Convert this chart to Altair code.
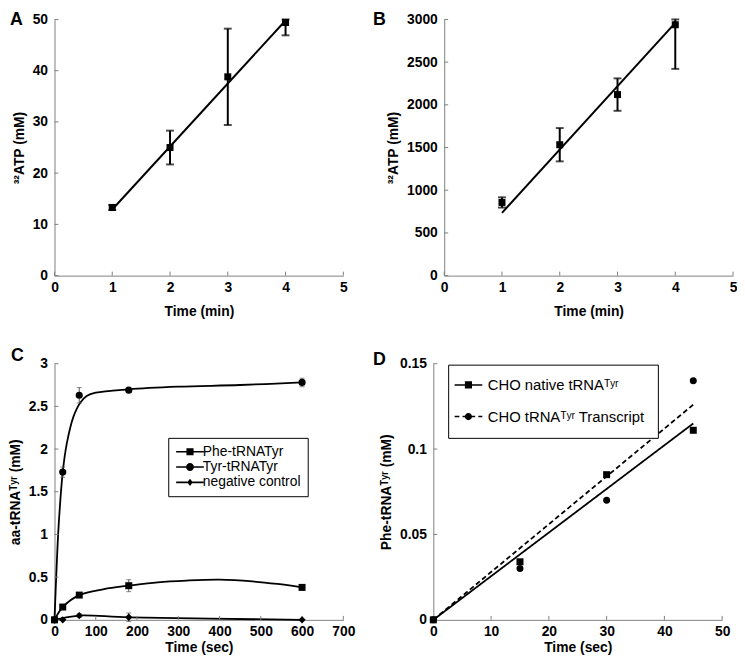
import altair as alt
import pandas as pd

# ---------------- data ----------------
# Panel A
a_time = [1, 2, 3, 4]
a_atp = [13.3, 25.0, 38.8, 49.4]
a_err = [0.5, 3.3, 9.4, 2.5]
a_fit_time = [1, 4]
a_fit_atp = [12.9, 49.8]
a_xticks = [0, 1, 2, 3, 4, 5]
a_yticks = [0, 10, 20, 30, 40, 50]

# Panel B
b_time = [1, 2, 3, 4]
b_atp = [857, 1533, 2120, 2938]
b_err = [60, 195, 190, 517]
b_fit_time = [1, 4]
b_fit_atp = [735, 2960]
b_xticks = [0, 1, 2, 3, 4, 5]
b_yticks = [0, 500, 1000, 1500, 2000, 2500, 3000]

# Panel C (measured points)
c_series = ["Phe-tRNATyr", "Tyr-tRNATyr", "negative control"]
c_time = [0, 20, 60, 180, 600]
c_phe = [0.0, 0.15, 0.29, 0.40, 0.38]
c_phe_err = [0.0, 0.02, 0.02, 0.07, 0.02]
c_tyr = [0.0, 1.73, 2.63, 2.69, 2.78]
c_tyr_err = [0.0, 0.06, 0.09, 0.02, 0.05]
c_neg = [0.0, 0.0, 0.05, 0.03, 0.0]
c_neg_err = [0.0, 0.0, 0.02, 0.05, 0.0]
# Panel C (fitted curves)
c_phe_fit_time = [0, 20, 60, 120, 180, 250, 320, 400, 480, 540, 600]
c_phe_fit = [0.0, 0.15, 0.29, 0.36, 0.40, 0.44, 0.46, 0.47, 0.45, 0.42, 0.38]
c_tyr_fit_time = [0, 5, 10, 20, 30, 46, 62, 78, 100, 180, 300, 450, 600]
c_tyr_fit = [0.0, 0.60, 1.10, 1.73, 2.07, 2.38, 2.54, 2.62, 2.66, 2.70, 2.73, 2.75, 2.78]
c_neg_fit_time = [0, 20, 60, 180, 600]
c_neg_fit = [0.0, 0.02, 0.05, 0.03, 0.0]
c_xticks = [0, 100, 200, 300, 400, 500, 600, 700]
c_yticks = [0, 0.5, 1, 1.5, 2, 2.5, 3]

# Panel D
d_series = ["CHO native tRNAᵀʸʳ", "CHO tRNAᵀʸʳ Transcript"]
d_time = [0, 15, 30, 45]
d_native = [0.0, 0.034, 0.085, 0.111]
d_transcript = [0.0, 0.030, 0.070, 0.140]
d_fit_time = [0, 45]
d_fit_native = [0.0, 0.115]
d_fit_transcript = [0.0, 0.126]
d_xticks = [0, 10, 20, 30, 40, 50]
d_yticks = [0, 0.05, 0.1, 0.15]

# ---------------- style ----------------
W, H = 292, 259
FONT = "Liberation Sans"
AX = "#808080"
TICK = 4


def axis(title, values, lpad, tpad):
    return alt.Axis(
        title=title, values=values, format=".10~g", ticks=False, grid=False,
        domainColor=AX, domainWidth=1, labelFont=FONT, labelFontSize=14,
        labelFontWeight="bold", labelColor="black", labelPadding=lpad,
        labelFlush=False, labelOverlap=False, titleFont=FONT, titleFontSize=14,
        titleFontWeight="bold", titleColor="black", titlePadding=tpad,
    )


def qscale(dom):
    return alt.Scale(domain=dom, nice=False, zero=False)


def inner_ticks(xticks, yticks):
    xt = alt.Chart(pd.DataFrame({"t": xticks})).mark_rule(color=AX, strokeWidth=1).encode(
        x="t:Q", y=alt.value(H), y2=alt.value(H - TICK))
    yt = alt.Chart(pd.DataFrame({"v": yticks})).mark_rule(color=AX, strokeWidth=1).encode(
        y="v:Q", x=alt.value(0), x2=alt.value(TICK))
    return [xt, yt]


def letter(ch, dx, dy):
    return alt.Chart(pd.DataFrame({"l": [ch]})).mark_text(
        font=FONT, fontSize=18, fontWeight="bold", align="left",
        baseline="top", color="black").encode(
        text="l:N", x=alt.value(dx), y=alt.value(dy))


def errbars(df, width, color, cap, clip_top):
    base = alt.Chart(df).transform_calculate(
        lo="datum.v - datum.e", hi=f"min(datum.v + datum.e, {clip_top})")
    rule = base.mark_rule(color=color, strokeWidth=width).encode(
        x="t:Q", y="lo:Q", y2="hi:Q")
    lo = base.mark_tick(color=color, thickness=width, size=cap, orient="horizontal").encode(
        x="t:Q", y="lo:Q")
    hi = base.mark_tick(color=color, thickness=width, size=cap, orient="horizontal").encode(
        x="t:Q", y="hi:Q")
    return [rule, lo, hi]


def linear_panel(times, vals, errs, fit_t, fit_v, xticks, yticks, ydom, ytitle, ch, chx):
    df = pd.DataFrame({"t": times, "v": vals, "e": errs})
    fit = pd.DataFrame({"t": fit_t, "v": fit_v})
    x = alt.X("t:Q", scale=qscale([xticks[0], xticks[-1]]),
              axis=axis("Time (min)", xticks, 5, 10))
    y = alt.Y("v:Q", scale=qscale(ydom), axis=axis(ytitle, yticks, 7, 6))
    line = alt.Chart(fit).mark_line(color="black", strokeWidth=2).encode(x=x, y=y)
    pts = alt.Chart(df).mark_point(shape="square", filled=True, size=50, color="black",
                                   opacity=1).encode(x="t:Q", y="v:Q")
    layers = [line] + inner_ticks(xticks, yticks) + errbars(df, 2, "black", 8, ydom[1]) + [pts, letter(ch, chx, -8)]
    return alt.layer(*layers).properties(width=W, height=H)


panel_a = linear_panel(a_time, a_atp, a_err, a_fit_time, a_fit_atp, a_xticks, a_yticks,
                       [0, 50], "³²ATP (mM)", "A", -45)
panel_b = linear_panel(b_time, b_atp, b_err, b_fit_time, b_fit_atp, b_xticks, b_yticks,
                       [0, 3000], "³²ATP (mM)", "B", -72)

# legend symbol paths: a thin filled bar (the line) plus the marker
BAR = "M-3.5,-0.2H3.5V0.2H-3.5Z"
DASHES = ("M-3.5,-0.2H-2.3V0.2H-3.5Z M-1.5,-0.2H-0.3V0.2H-1.5Z "
          "M0.5,-0.2H1.7V0.2H0.5Z M2.5,-0.2H3.5V0.2H2.5Z")
SQ = "M-0.9,-0.9H0.9V0.9H-0.9Z"
CI = "M-1,0A1,1,0,1,1,1,0A1,1,0,1,1,-1,0Z"
CI_S = "M-0.9,0A0.9,0.9,0,1,1,0.9,0A0.9,0.9,0,1,1,-0.9,0Z"
DI = "M0,-0.9L0.7,0L0,0.9L-0.7,0Z"

# ---------------- Panel C ----------------
rows = []
for s, vals, errs in zip(c_series, [c_phe, c_tyr, c_neg], [c_phe_err, c_tyr_err, c_neg_err]):
    for t, v, e in zip(c_time, vals, errs):
        rows.append({"s": s, "t": t, "v": v, "e": e})
c_df = pd.DataFrame(rows)
crow = []
for s, ts, vs in zip(c_series, [c_phe_fit_time, c_tyr_fit_time, c_neg_fit_time],
                     [c_phe_fit, c_tyr_fit, c_neg_fit]):
    for t, v in zip(ts, vs):
        crow.append({"s": s, "t": t, "v": v})
c_curves = pd.DataFrame(crow)

xC = alt.X("t:Q", scale=qscale([0, 700]), axis=axis("Time (sec)", c_xticks, 5, 2))
yC = alt.Y("v:Q", scale=qscale([0, 3]), axis=axis("aa-tRNAᵀʸʳ (mM)", c_yticks, 7, 6))
c_lines = alt.Chart(c_curves).mark_line(interpolate="catmull-rom", color="black",
                                        strokeWidth=1.8).encode(x=xC, y=yC, detail="s:N")
c_pts = alt.Chart(c_df).mark_point(filled=True, color="black", opacity=1).encode(
    x="t:Q", y="v:Q",
    shape=alt.Shape("s:N", scale=alt.Scale(domain=c_series, range=["square", "circle", "diamond"]),
                    legend=None),
    size=alt.Size("s:N", scale=alt.Scale(domain=c_series, range=[50, 55, 30]), legend=None),
)
c_leg_paths = [BAR + " " + SQ, BAR + " " + CI, BAR + " " + DI]
c_leg = alt.Chart(pd.DataFrame({"sl": c_series})).transform_filter("false").mark_point(
    filled=True, color="black", opacity=1).encode(
    shape=alt.Shape("sl:N", scale=alt.Scale(domain=c_series, range=c_leg_paths),
                    legend=alt.Legend(
                        title=None, orient="none", legendX=115, legendY=75,
                        strokeColor="black", fillColor="white", padding=7, cornerRadius=0,
                        symbolSize=64, symbolOffset=8, labelOffset=6, rowPadding=1.5,
                        symbolFillColor="black", symbolStrokeColor="black",
                        symbolStrokeWidth=0, symbolOpacity=1, labelLimit=0,
                        labelFont=FONT, labelFontSize=14, labelColor="black")))
panel_c = alt.layer(
    c_lines, *inner_ticks(c_xticks, c_yticks),
    *errbars(c_df, 1, "#555555", 5, 3), c_pts, c_leg, letter("C", -44, -17)
).resolve_scale(shape="independent").properties(width=W, height=H)

# ---------------- Panel D ----------------
d_rows = []
for s, vals in zip(d_series, [d_native, d_transcript]):
    for t, v in zip(d_time, vals):
        d_rows.append({"s": s, "t": t, "v": v})
d_df = pd.DataFrame(d_rows)
f_rows = []
for s, vals in zip(d_series, [d_fit_native, d_fit_transcript]):
    for t, v in zip(d_fit_time, vals):
        f_rows.append({"s": s, "t": t, "v": v})
d_fit = pd.DataFrame(f_rows)

xD = alt.X("t:Q", scale=qscale([0, 50]), axis=axis("Time (sec)", d_xticks, 5, 2))
yD = alt.Y("v:Q", scale=qscale([0, 0.15]), axis=axis("Phe-tRNAᵀʸʳ (mM)", d_yticks, 7, 6))
dash_range = [[1, 0], [5, 3]]
d_lines = alt.Chart(d_fit).mark_line(color="black", strokeWidth=1.8).encode(
    x=xD, y=yD,
    strokeDash=alt.StrokeDash("s:N", scale=alt.Scale(domain=d_series, range=dash_range), legend=None))
d_pts = alt.Chart(d_df).mark_point(filled=True, color="black", opacity=1, size=50).encode(
    x="t:Q", y="v:Q",
    shape=alt.Shape("s:N", scale=alt.Scale(domain=d_series, range=["square", "circle"]), legend=None))
d_leg_paths = [BAR + " " + SQ, DASHES + " " + CI_S]
d_leg = alt.Chart(pd.DataFrame({"sl": d_series})).transform_filter("false").mark_point(
    filled=True, color="black", opacity=1).encode(
    shape=alt.Shape("sl:N", scale=alt.Scale(domain=d_series, range=d_leg_paths),
                    legend=alt.Legend(
                        title=None, orient="none", legendX=15, legendY=1,
                        strokeColor="black", fillColor="white", padding=13, cornerRadius=0,
                        symbolSize=64, symbolOffset=0, labelOffset=12, rowPadding=16,
                        symbolFillColor="black", symbolStrokeColor="black",
                        symbolStrokeWidth=0, symbolOpacity=1, labelLimit=0,
                        labelFont=FONT, labelFontSize=15, labelColor="black")))
panel_d = alt.layer(
    d_lines, *inner_ticks(d_xticks, d_yticks), d_pts, d_leg, letter("D", -61, -13)
).resolve_scale(shape="independent").properties(width=W, height=H)

row1 = alt.hconcat(panel_a, panel_b, spacing=26)
row2 = alt.hconcat(panel_c, panel_d, spacing=18)
chart = alt.vconcat(row1, row2, spacing=29).properties(
    padding=0, background="white"
).configure_view(stroke=None)

chart.save("out.html", embed_options={"renderer": "svg", "actions": False})
